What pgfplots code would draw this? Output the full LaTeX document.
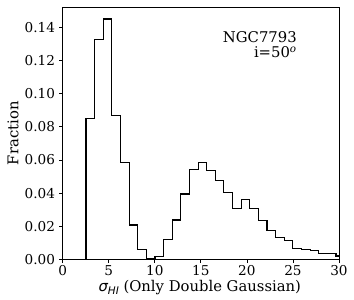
\documentclass[border=0pt]{standalone}
\usepackage{pgfplots}
\pgfplotsset{compat=1.18}
\usepackage{fontspec}
\setmainfont{DejaVu Serif}
\newfontfamily\dvs{DejaVu Sans}
\begin{document}
\begin{tikzpicture}[x=1bp,y=1bp]
\begin{axis}[
  scale only axis, width=276.3bp, height=252.5bp,
  xmin=0, xmax=30, ymin=0, ymax=0.15225,
  xtick={0,5,...,30}, ytick={0,0.02,0.04,0.06,0.08,0.10,0.12,0.14},
  yticklabel style={/pgf/number format/fixed,/pgf/number format/fixed zerofill,/pgf/number format/precision=2},
  /pgf/number format/assume math mode=true,
  tick label style={font=\fontsize{13.65}{15}\selectfont, black, inner sep=0pt},
  xticklabel style={yshift=-2bp},
  yticklabel style={xshift=-4bp},
  label style={font=\fontsize{14.85}{17}\selectfont},
  tick align=outside, tick pos=left, major tick length=3.5bp,
  axis line style={black, line width=0.8bp},
  every tick/.style={black, line width=0.8bp},
  xlabel={{\dvs\itshape σ\raisebox{-0.22em}{\fontsize{10.5}{12}\selectfont HI}} (Only Double Gaussian)},
  ylabel={Fraction},
  xlabel style={at={(axis description cs:0.496,-0.1267)}, anchor=base, inner sep=0pt},
  ylabel style={at={(axis description cs:-0.1607,0.5)}, anchor=base, inner sep=0pt},
  clip=true,
]
\addplot[const plot, black, line width=1.1bp] coordinates {
(2.53,0)
(2.53,0.085)
(3.466,0.1328)
(4.402,0.145)
(5.338,0.0866)
(6.274,0.0586)
(7.21,0.0208)
(8.146,0.0061)
(9.082,0.0004)
(10.018,0.002)
(10.954,0.0122)
(11.89,0.0238)
(12.826,0.0395)
(13.762,0.0543)
(14.698,0.0583)
(15.634,0.0539)
(16.57,0.0475)
(17.506,0.0402)
(18.442,0.0306)
(19.378,0.0363)
(20.314,0.0306)
(21.25,0.0234)
(22.186,0.0174)
(23.122,0.0134)
(24.058,0.0113)
(24.994,0.0067)
(25.93,0.0061)
(26.866,0.0053)
(27.802,0.0035)
(28.738,0.0035)
(29.674,0.0021)
(30,0.0021)
};
\end{axis}
\node[anchor=south east, align=right, font=\fontsize{14.85}{15.5}\selectfont, inner sep=0pt] at (234.2,201.2) {NGC7793\\i=50\textsuperscript{\itshape o}};
\pgfresetboundingbox
\path[use as bounding box] (-62.7,-40.5) rectangle (291.3,259.5);
\end{tikzpicture}
\end{document}
